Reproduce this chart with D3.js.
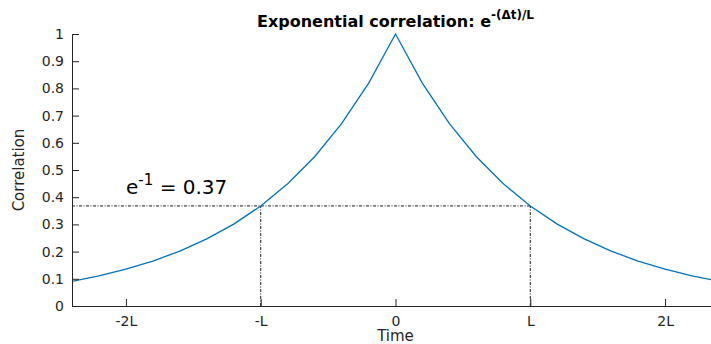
<!DOCTYPE html>
<html>
<head>
<meta charset="utf-8">
<script src="https://cdn.jsdelivr.net/npm/d3@7"></script>
<style>
  html, body { margin: 0; padding: 0; background: #fff; }
  svg { display: block; font-family: "DejaVu Sans", sans-serif; }
</style>
</head>
<body>
<svg id="chart" width="711" height="344"></svg>
<script>
// Lag in units of L, sampled every 0.2L
const lags = [-2.4, -2.2, -2.0, -1.8, -1.6, -1.4, -1.2, -1.0, -0.8, -0.6, -0.4, -0.2, 0,
              0.2, 0.4, 0.6, 0.8, 1.0, 1.2, 1.4, 1.6, 1.8, 2.0, 2.2, 2.4];
// Correlation at each lag
const correlation = [0.0907, 0.1108, 0.1353, 0.1653, 0.2019, 0.2466, 0.3012, 0.3679, 0.4493, 0.5488, 0.6703, 0.8187, 1.0,
                     0.8187, 0.6703, 0.5488, 0.4493, 0.3679, 0.3012, 0.2466, 0.2019, 0.1653, 0.1353, 0.1108, 0.0907];
const xTickValues = [-2, -1, 0, 1, 2];
const xTickLabels = ["-2L", "-L", "0", "L", "2L"];
const yTickValues = [0, 0.1, 0.2, 0.3, 0.4, 0.5, 0.6, 0.7, 0.8, 0.9, 1];
const yTickLabels = ["0", "0.1", "0.2", "0.3", "0.4", "0.5", "0.6", "0.7", "0.8", "0.9", "1"];
const eFold = 1;          // lag where correlation falls to 1/e
const eFoldValue = 0.3679;

const svg = d3.select("#chart");
const axisColor = "#262626";

const x = d3.scaleLinear().domain([-2.4, 2.4]).range([72, 719]);
const y = d3.scaleLinear().domain([0, 1]).range([306, 34]);

// Reference lines at the 1/e level
const refStyle = g => g.attr("stroke", "#000").attr("stroke-width", 0.9)
  .attr("stroke-dasharray", "3,1.5,1,1.5").attr("fill", "none");
svg.append("line").call(refStyle)
  .attr("x1", x(-2.4)).attr("x2", x(eFold))
  .attr("y1", y(eFoldValue)).attr("y2", y(eFoldValue));
svg.append("line").call(refStyle)
  .attr("x1", x(-eFold)).attr("x2", x(-eFold))
  .attr("y1", y(0)).attr("y2", y(eFoldValue));
svg.append("line").call(refStyle)
  .attr("x1", x(eFold)).attr("x2", x(eFold))
  .attr("y1", y(0)).attr("y2", y(eFoldValue));

// Correlation curve
const line = d3.line().x((d, i) => x(lags[i])).y(d => y(d));
svg.append("path")
  .datum(correlation)
  .attr("d", line)
  .attr("fill", "none")
  .attr("stroke", "#0072BD")
  .attr("stroke-width", 1.3);

// Axes with inward ticks
const xAxis = d3.axisBottom(x)
  .tickValues(xTickValues)
  .tickFormat((d, i) => xTickLabels[i])
  .tickSizeInner(-7).tickSizeOuter(0).tickPadding(10);
const gx = svg.append("g").attr("transform", `translate(0,${y(0)})`).call(xAxis);

const yAxis = d3.axisLeft(y)
  .tickValues(yTickValues)
  .tickFormat((d, i) => yTickLabels[i])
  .tickSizeInner(-7).tickSizeOuter(0).tickPadding(8);
const gy = svg.append("g").attr("transform", `translate(${x(-2.4)},0)`).call(yAxis);

[gx, gy].forEach(g => {
  g.select(".domain").attr("stroke", axisColor).attr("stroke-width", 1);
  g.selectAll(".tick line").attr("stroke", axisColor);
  g.selectAll(".tick text").attr("fill", axisColor)
    .style("font-size", "14px").style("font-family", "DejaVu Sans, sans-serif");
});

// Axis titles
svg.append("text")
  .attr("x", x(0)).attr("y", 341)
  .attr("text-anchor", "middle")
  .attr("fill", axisColor)
  .style("font-size", "15px")
  .text("Time");

svg.append("text")
  .attr("transform", `translate(24,${y(0.5)}) rotate(-90)`)
  .attr("text-anchor", "middle")
  .attr("fill", axisColor)
  .style("font-size", "15px")
  .text("Correlation");

// Title
const title = svg.append("text")
  .attr("x", x(0)).attr("y", 27)
  .attr("text-anchor", "middle")
  .attr("fill", "#000")
  .style("font-size", "16px")
  .style("font-weight", "bold");
title.append("tspan").text("Exponential correlation: e");
title.append("tspan").attr("dy", -8).style("font-size", "12px").text("-(\u0394t)/L");

// Annotation of the 1/e value
const note = svg.append("text")
  .attr("x", 126).attr("y", 194)
  .attr("fill", "#000")
  .style("font-size", "20px");
note.append("tspan").text("e");
note.append("tspan").attr("dy", -9).style("font-size", "15px").text("-1");
note.append("tspan").attr("dy", 9).text(" = " + eFoldValue.toFixed(2));
</script>
</body>
</html>
